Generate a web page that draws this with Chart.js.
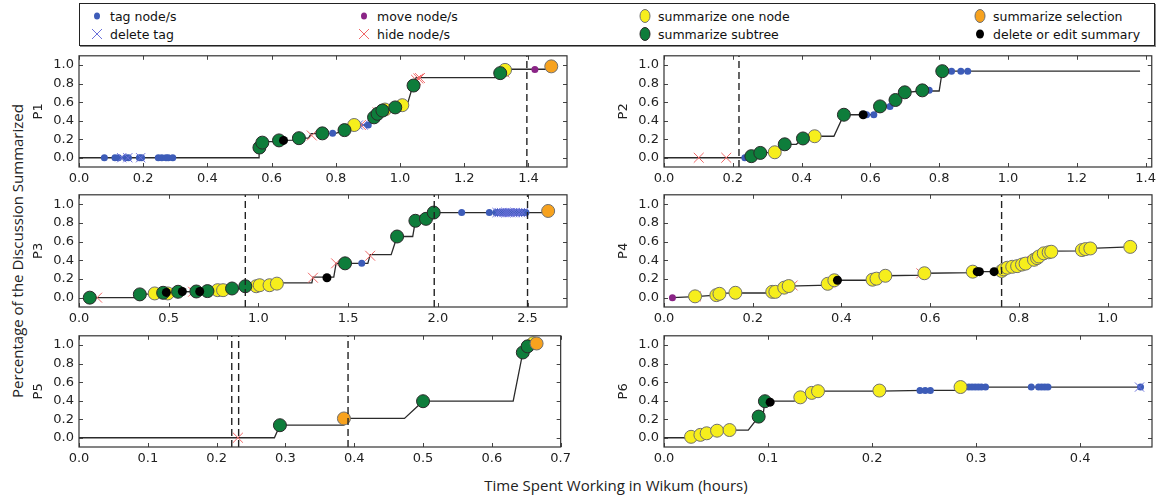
<!DOCTYPE html>
<html>
<head>
<meta charset="utf-8">
<script src="https://cdn.jsdelivr.net/npm/chart.js@4.4.1/dist/chart.umd.min.js"></script>
<style>
  html, body { margin:0; padding:0; background:#fff; width:1158px; height:496px; overflow:hidden; }
  canvas { position:absolute; }
  #legend { position:absolute; left:79px; top:3px; width:1076px; height:43px; border:1px solid #222; box-sizing:border-box;
            font:12.5px "DejaVu Sans", sans-serif; color:#111; box-shadow:1px 1px 0 #888; }
  .item { position:absolute; height:18px; display:flex; align-items:center; white-space:nowrap; }
  .item svg { position:absolute; left:-9px; top:0; }
  .item span { position:absolute; left:13px; }
  .title { position:absolute; font:15px "Open Sans", sans-serif; color:#222; white-space:nowrap; }
</style>
</head>
<body>
<div id="legend"></div>
<div class="title" id="ytitle">Percentage of the Discussion Summarized</div>
<div class="title" id="xtitle">Time Spent Working in Wikum (hours)</div>
<script>
/* === DATA === */
const panelNames = ["P1", "P2", "P3", "P4", "P5", "P6"];
const xMax = [1.52, 1.418, 2.72, 1.1, 0.7, 0.469];
const xTicks = [
  [0, 0.2, 0.4, 0.6, 0.8, 1.0, 1.2, 1.4],
  [0, 0.2, 0.4, 0.6, 0.8, 1.0, 1.2, 1.4],
  [0, 0.5, 1.0, 1.5, 2.0, 2.5],
  [0, 0.2, 0.4, 0.6, 0.8, 1.0],
  [0, 0.1, 0.2, 0.3, 0.4, 0.5, 0.6, 0.7],
  [0, 0.1, 0.2, 0.3, 0.4]
];
const yTicks = [0, 0.2, 0.4, 0.6, 0.8, 1.0];
const yMin = -0.1, yMax = 1.1;

// cumulative share summarized, one polyline per participant
const progress = [
  [[0,0],[0.561,0],[0.561,0.075],[0.572,0.173],[0.617,0.173],[0.624,0.187],[0.669,0.19],[0.685,0.211],[0.715,0.211],[0.723,0.26],[0.8,0.263],[0.827,0.298],[0.845,0.3],[0.86,0.353],[0.905,0.353],[0.92,0.436],[0.93,0.474],[0.945,0.51],[0.96,0.53],[0.985,0.543],[1.0,0.567],[1.022,0.567],[1.04,0.779],[1.05,0.865],[1.304,0.865],[1.31,0.913],[1.327,0.955],[1.47,0.955]],
  [[0,0],[0.24,0],[0.254,0.017],[0.27,0.02],[0.28,0.052],[0.335,0.06],[0.351,0.145],[0.385,0.145],[0.404,0.208],[0.438,0.232],[0.494,0.232],[0.523,0.464],[0.61,0.464],[0.628,0.554],[0.66,0.554],[0.673,0.62],[0.70,0.706],[0.751,0.72],[0.80,0.72],[0.809,0.934],[1.384,0.934]],
  [[0.06,0],[0.33,0],[0.339,0.035],[0.41,0.04],[0.422,0.045],[0.46,0.05],[0.469,0.06],[0.54,0.06],[0.552,0.063],[0.7,0.066],[0.716,0.07],[0.76,0.075],[0.773,0.085],[0.84,0.09],[0.853,0.098],[0.92,0.1],[0.927,0.122],[0.98,0.122],[0.988,0.133],[1.09,0.14],[1.103,0.157],[1.298,0.157],[1.304,0.22],[1.42,0.22],[1.433,0.367],[1.61,0.367],[1.623,0.46],[1.74,0.46],[1.773,0.654],[1.86,0.654],[1.875,0.822],[1.934,0.843],[1.977,0.91],[2.615,0.91]],
  [[0.019,0],[0.07,0.01],[0.118,0.027],[0.125,0.045],[0.161,0.05],[0.24,0.05],[0.251,0.07],[0.271,0.1],[0.281,0.124],[0.37,0.135],[0.384,0.186],[0.47,0.186],[0.479,0.205],[0.499,0.234],[0.587,0.24],[0.59,0.261],[0.696,0.268],[0.70,0.278],[0.761,0.278],[0.766,0.3],[0.815,0.364],[0.834,0.4],[0.856,0.474],[0.873,0.497],[0.942,0.5],[0.961,0.526],[1.051,0.543]],
  [[0,0],[0.284,0],[0.292,0.135],[0.385,0.135],[0.388,0.208],[0.473,0.208],[0.5,0.394],[0.631,0.394],[0.645,0.92],[0.652,0.986],[0.665,1.017]],
  [[0,0],[0.024,0],[0.026,0.01],[0.035,0.031],[0.041,0.048],[0.051,0.076],[0.063,0.083],[0.081,0.083],[0.091,0.228],[0.095,0.23],[0.097,0.394],[0.125,0.394],[0.131,0.436],[0.142,0.484],[0.148,0.502],[0.207,0.502],[0.25,0.51],[0.281,0.51],[0.285,0.547],[0.458,0.547]]
];

// dashed vertical markers (hours)
const sessionBreaks = [[1.395], [0.218], [0.927, 1.98, 2.5], [0.761], [0.222, 0.232, 0.391], []];

// events per panel as [hours, share]
const tagNode = [
  [[0.079,0],[0.112,0],[0.123,0],[0.145,0],[0.154,0],[0.188,0],[0.195,0],[0.247,0],[0.258,0],[0.271,0],[0.278,0],[0.292,0],[0.79,0.263],[0.901,0.353],[0.96,0.53]],
  [[0.235,0],[0.589,0.464],[0.61,0.464],[0.657,0.554],[0.771,0.727],[0.836,0.934],[0.863,0.934],[0.883,0.934]],
  [[1.576,0.367],[2.133,0.91],[2.287,0.91],[2.324,0.91],[2.335,0.91],[2.35,0.91],[2.36,0.91],[2.372,0.91],[2.385,0.91],[2.398,0.91],[2.41,0.91],[2.425,0.91],[2.44,0.91],[2.455,0.91],[2.468,0.91],[2.48,0.91],[2.491,0.91]],
  [],
  [],
  [[0.246,0.509],[0.251,0.509],[0.256,0.509],[0.289,0.547],[0.293,0.547],[0.296,0.547],[0.299,0.547],[0.302,0.547],[0.305,0.547],[0.309,0.547],[0.353,0.547],[0.36,0.547],[0.363,0.547],[0.366,0.547],[0.369,0.547],[0.458,0.547]]
];
const deleteTag = [
  [[0.133,0],[0.152,0],[0.192,0],[0.87,0.353],[0.885,0.353]],
  [],
  [[2.33,0.91],[2.342,0.91],[2.355,0.91],[2.368,0.91],[2.38,0.91],[2.392,0.91],[2.404,0.91],[2.418,0.91],[2.432,0.91],[2.445,0.91],[2.46,0.91],[2.475,0.91]],
  [],
  [],
  [[0.457,0.547]]
];
const moveNode = [[[1.42,0.952]], [], [], [[0.019,0]], [], []];
const hideNode = [
  [[0.725,0.24],[0.878,0.353],[0.93,0.49],[1.05,0.84],[1.057,0.855],[1.062,0.86],[1.325,0.92]],
  [[0.101,0],[0.181,0]],
  [[0.101,0],[0.636,0.063],[1.304,0.213],[1.433,0.367],[1.623,0.448]],
  [[0.072,0.014],[0.25,0.06],[0.276,0.115],[0.29,0.13],[0.375,0.16],[0.48,0.21],[0.58,0.26],[0.83,0.39]],
  [[0.231,0]],
  []
];
const summarizeOne = [
  [[0.857,0.353],[0.953,0.52],[1.007,0.567],[1.327,0.948]],
  [[0.322,0.059],[0.438,0.232]],
  [[0.422,0.045],[0.495,0.045],[0.773,0.08],[0.803,0.08],[0.988,0.122],[1.007,0.133],[1.062,0.133],[1.103,0.15]],
  [[0.07,0.014],[0.118,0.027],[0.125,0.041],[0.161,0.052],[0.244,0.062],[0.251,0.062],[0.271,0.107],[0.281,0.124],[0.369,0.148],[0.384,0.186],[0.47,0.192],[0.479,0.203],[0.499,0.234],[0.587,0.261],[0.696,0.278],[0.761,0.285],[0.766,0.302],[0.774,0.32],[0.785,0.33],[0.796,0.337],[0.807,0.354],[0.815,0.364],[0.834,0.405],[0.841,0.423],[0.845,0.44],[0.856,0.474],[0.867,0.485],[0.873,0.491],[0.942,0.509],[0.95,0.519],[0.961,0.526],[1.051,0.543]],
  [[0.66,1.02]],
  [[0.026,0.01],[0.035,0.031],[0.041,0.048],[0.051,0.076],[0.063,0.083],[0.131,0.436],[0.142,0.484],[0.148,0.502],[0.207,0.509],[0.285,0.547]]
];
const summarizeSubtree = [
  [[0.562,0.11],[0.571,0.163],[0.623,0.187],[0.685,0.211],[0.758,0.263],[0.827,0.298],[0.919,0.436],[0.93,0.474],[0.945,0.509],[0.985,0.543],[1.042,0.779],[1.312,0.913]],
  [[0.254,0.017],[0.28,0.052],[0.351,0.145],[0.404,0.208],[0.523,0.464],[0.628,0.554],[0.673,0.623],[0.70,0.706],[0.751,0.727],[0.809,0.934]],
  [[0.06,0],[0.339,0.035],[0.469,0.052],[0.552,0.063],[0.654,0.066],[0.716,0.07],[0.853,0.098],[0.927,0.122],[1.483,0.367],[1.773,0.654],[1.875,0.822],[1.934,0.843],[1.977,0.91]],
  [],
  [[0.292,0.135],[0.5,0.394],[0.645,0.92],[0.652,0.986]],
  [[0.091,0.228],[0.097,0.394]]
];
const summarizeSelection = [[[1.471,0.986]], [], [[2.615,0.927]], [], [[0.385,0.208],[0.665,1.017]], []];
const editSummary = [
  [[0.637,0.187]],
  [[0.579,0.464]],
  [[0.487,0.056],[0.576,0.066],[0.673,0.066],[1.382,0.213]],
  [[0.391,0.186],[0.706,0.278],[0.711,0.278],[0.744,0.278]],
  [],
  [[0.102,0.384]]
];

/* === STYLES === */
const eventTypes = [
  {label:"tag node/s",             data:tagNode,            style:"circle",   r:3.5, fill:"#3d5cb8", edge:"#3d5cb8", bw:0, order:8},
  {label:"delete tag",             data:deleteTag,          style:"crossRot", r:6.5, fill:"#6a70da", edge:"#6a70da", bw:1, order:7},
  {label:"move node/s",            data:moveNode,           style:"circle",   r:3.5, fill:"#8a2486", edge:"#8a2486", bw:0, order:6},
  {label:"hide node/s",            data:hideNode,           style:"crossRot", r:7,   fill:"#f06868", edge:"#f06868", bw:1, order:5},
  {label:"summarize one node",     data:summarizeOne,       style:"circle",   r:6.5, fill:"#f6ee1c", edge:"#707070", bw:1, order:4},
  {label:"summarize subtree",      data:summarizeSubtree,   style:"circle",   r:6.5, fill:"#0e7d3b", edge:"#2a2a2a", bw:1, order:3},
  {label:"summarize selection",    data:summarizeSelection, style:"circle",   r:6.5, fill:"#f7a21e", edge:"#707070", bw:1, order:2},
  {label:"delete or edit summary", data:editSummary,        style:"circle",   r:4.5, fill:"#000000", edge:"#000000", bw:0, order:1}
];

// plot boxes in page pixels
const colLeft = [79, 664], boxW = 488;
const rowTop = [51, 190, 331], rowH = [116, 117, 116];
const padL = 60, padT = 8, padR = 8, axisH = 22;

/* === LEGEND === */
const legendPos = [[17,3],[284,3],[565,3],[900,3],[17,21],[284,21],[565,21],[900,21]];
const legendOrder = [0, 2, 4, 6, 1, 3, 5, 7];
const legendDiv = document.getElementById("legend");
legendOrder.forEach((ti, k) => {
  const t = eventTypes[ti];
  const item = document.createElement("div");
  item.className = "item";
  item.style.left = legendPos[k][0] + "px"; item.style.top = legendPos[k][1] + "px";
  let mark;
  if (t.style === "crossRot") {
    const rr = 5;
    mark = `<line x1="${9-rr}" y1="${9-rr}" x2="${9+rr}" y2="${9+rr}" stroke="${t.edge}"/><line x1="${9-rr}" y1="${9+rr}" x2="${9+rr}" y2="${9-rr}" stroke="${t.edge}"/>`;
  } else {
    const rx = t.r > 5 ? 5 : t.r - 0.5;
    mark = `<ellipse cx="9" cy="9" rx="${rx}" ry="${rx + (t.r > 5 ? 1.5 : 0.5)}" fill="${t.fill}" stroke="${t.edge}" stroke-width="${t.bw}"/>`;
  }
  item.innerHTML = `<svg width="18" height="18">${mark}</svg><span>${t.label}</span>`;
  legendDiv.appendChild(item);
});

const yt = document.getElementById("ytitle");
yt.style.left = "17px"; yt.style.top = "251px";
yt.style.transform = "translate(-50%,-50%) rotate(-90deg)";
const xt = document.getElementById("xtitle");
xt.style.left = "616px"; xt.style.top = "485px";
xt.style.transform = "translate(-50%,-50%)";

/* === FRAME + INWARD TICKS === */
const framePlugin = {
  id: "frame",
  afterDraw(chart) {
    const {ctx, chartArea: a, scales: {x, y}} = chart;
    ctx.save();
    ctx.strokeStyle = "#444"; ctx.lineWidth = 1;
    ctx.beginPath();
    x.ticks.forEach(t => {
      const px = Math.round(x.getPixelForValue(t.value)) + 0.5;
      ctx.moveTo(px, a.top); ctx.lineTo(px, a.top + 4);
      ctx.moveTo(px, a.bottom); ctx.lineTo(px, a.bottom - 4);
    });
    y.ticks.forEach(t => {
      const py = Math.round(y.getPixelForValue(t.value)) + 0.5;
      ctx.moveTo(a.left, py); ctx.lineTo(a.left + 4, py);
      ctx.moveTo(a.right, py); ctx.lineTo(a.right - 4, py);
    });
    ctx.stroke();
    ctx.strokeStyle = "#333"; ctx.lineWidth = 1.2;
    ctx.strokeRect(a.left, a.top, a.right - a.left, a.bottom - a.top);
    ctx.restore();
  }
};

const tickFont = {family: "DejaVu Sans", size: 13};
const toPts = arr => arr.map(p => ({x: p[0], y: p[1]}));

/* === PANELS === */
panelNames.forEach((name, i) => {
  const col = i % 2, row = Math.floor(i / 2);
  const cv = document.createElement("canvas");
  const w = padL + boxW + padR, h = padT + rowH[row] + axisH;
  cv.width = w; cv.height = h;
  cv.style.left = (colLeft[col] - padL) + "px";
  cv.style.top = (rowTop[row] - padT) + "px";
  document.body.appendChild(cv);

  const datasets = [];
  datasets.push({data: toPts(progress[i]), showLine: true, borderColor: "#2b2b2b", borderWidth: 1.3,
                 pointRadius: 0, fill: false, tension: 0, order: 20});
  sessionBreaks[i].forEach(d => {
    datasets.push({data: [{x: d, y: yMin}, {x: d, y: yMax}], showLine: true, borderColor: "#222",
                   borderWidth: 1.4, borderDash: [7, 4], pointRadius: 0, order: 0});
  });
  eventTypes.forEach(t => {
    if (!t.data[i].length) return;
    datasets.push({data: toPts(t.data[i]), showLine: false, pointStyle: t.style, pointRadius: t.r,
                   pointBackgroundColor: t.fill, pointBorderColor: t.edge, pointBorderWidth: t.bw, order: t.order});
  });

  new Chart(cv.getContext("2d"), {
    type: "scatter",
    data: {datasets},
    plugins: [framePlugin],
    options: {
      responsive: false, animation: false, devicePixelRatio: 1,
      layout: {padding: {left: 0, top: padT, right: padR, bottom: 0}},
      plugins: {legend: {display: false}, tooltip: {enabled: false}},
      scales: {
        x: {
          type: "linear", min: 0, max: xMax[i],
          afterBuildTicks: s => { s.ticks = xTicks[i].map(v => ({value: v})); },
          afterFit: s => { s.height = axisH; },
          grid: {display: false, drawTicks: false}, border: {display: false},
          ticks: {autoSkip: false, maxRotation: 0, padding: 4, color: "#222", font: tickFont,
                  callback: v => Number(v).toFixed(1)}
        },
        y: {
          type: "linear", min: yMin, max: yMax,
          afterBuildTicks: s => { s.ticks = yTicks.map(v => ({value: v})); },
          afterFit: s => { s.width = padL; },
          grid: {display: false, drawTicks: false}, border: {display: false},
          title: {display: true, text: name, color: "#222", font: tickFont, padding: {top: 12, bottom: 0}},
          ticks: {autoSkip: false, padding: 5, color: "#222", font: tickFont,
                  callback: v => Number(v).toFixed(1)}
        }
      }
    }
  });
});
</script>
</body>
</html>
